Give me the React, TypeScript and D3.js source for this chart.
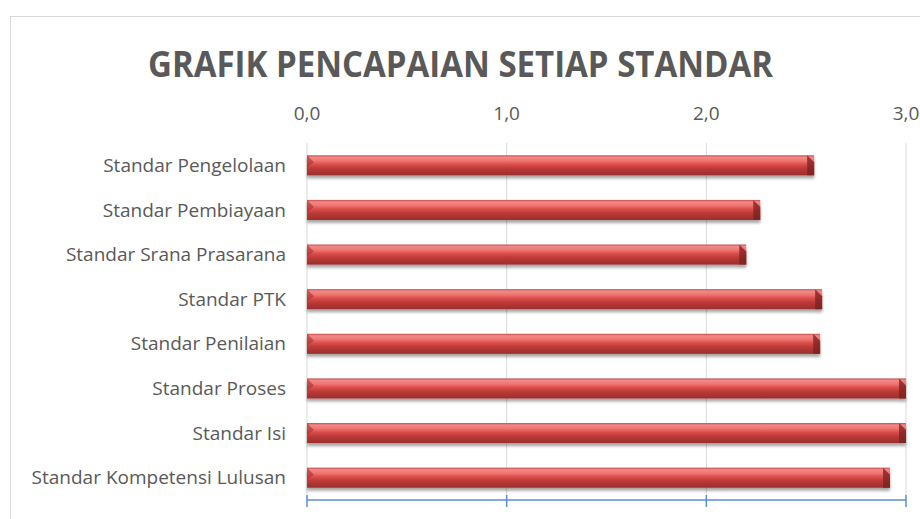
import React from "react";
import * as d3 from "d3";

const categories = [
  "Standar Pengelolaan",
  "Standar Pembiayaan",
  "Standar Srana Prasarana",
  "Standar PTK",
  "Standar Penilaian",
  "Standar Proses",
  "Standar Isi",
  "Standar Kompetensi Lulusan",
];
const values = [2.54, 2.27, 2.2, 2.58, 2.57, 3.0, 3.0, 2.92];
const tickValues = [0, 1, 2, 3];
const title = "GRAFIK PENCAPAIAN SETIAP STANDAR";

const W = 920;
const H = 519;
const plotLeft = 307;
const plotRight = 906;
const plotTop = 143;
const plotBottom = 500;

export default function App() {
  const x = d3.scaleLinear().domain([0, 3]).range([plotLeft, plotRight]);
  const y = d3
    .scaleBand<string>()
    .domain(categories)
    .range([plotTop, plotBottom])
    .paddingInner(0.55)
    .paddingOuter(0.275);
  const fmt = (v: number) => d3.format(".1f")(v).replace(".", ",");
  const bh = y.bandwidth();
  const font = "'Open Sans', 'Noto Sans', sans-serif";

  return (
    <svg
      width={W}
      height={H}
      style={{ position: "absolute", left: 0, top: 0, background: "#fff" }}
    >
      <defs>
        <linearGradient id="barGrad" x1="0" y1="0" x2="0" y2="1">
          <stop offset="0%" stopColor="#c94a48" />
          <stop offset="10%" stopColor="#f08a88" />
          <stop offset="28%" stopColor="#f07471" />
          <stop offset="45%" stopColor="#dc4f4c" />
          <stop offset="65%" stopColor="#bd3a38" />
          <stop offset="100%" stopColor="#9a2e2c" />
        </linearGradient>
        <linearGradient id="endGrad" x1="0" y1="0" x2="0" y2="1">
          <stop offset="0%" stopColor="#8f2a28" />
          <stop offset="100%" stopColor="#7a2220" />
        </linearGradient>
        <filter id="shadow" x="-5%" y="-50%" width="110%" height="200%">
          <feGaussianBlur in="SourceAlpha" stdDeviation="1.5" />
          <feOffset dx="0" dy="2.5" result="ob" />
          <feComponentTransfer>
            <feFuncA type="linear" slope="0.35" />
          </feComponentTransfer>
          <feMerge>
            <feMergeNode />
            <feMergeNode in="SourceGraphic" />
          </feMerge>
        </filter>
      </defs>

      <rect
        x={10.5}
        y={16.5}
        width={930}
        height={530}
        fill="#fff"
        stroke="#d9d9d9"
        strokeWidth={1}
      />

      <text
        x={460.5}
        y={77}
        textAnchor="middle"
        fontFamily={font}
        fontWeight="bold"
        fontSize={36}
        fill="#595959"
        textLength={625}
        lengthAdjust="spacingAndGlyphs"
      >
        {title}
      </text>

      {tickValues.map((t) => (
        <g key={t}>
          <line
            x1={x(t)}
            x2={x(t)}
            y1={plotTop}
            y2={plotBottom}
            stroke="#d9d9d9"
            strokeWidth={1}
          />
          <text
            x={x(t)}
            y={120}
            textAnchor="middle"
            fontFamily={font}
            fontSize={19}
            fill="#595959"
          >
            {fmt(t)}
          </text>
        </g>
      ))}

      {categories.map((c, i) => {
        const y0 = y(c)!;
        const x1 = x(values[i]);
        const bev = Math.min(7, bh * 0.35);
        return (
          <g key={c}>
            <g filter="url(#shadow)">
              <rect
                x={x(0)}
                y={y0}
                width={x1 - x(0)}
                height={bh}
                fill="url(#barGrad)"
              />
              <polygon
                points={`${x1 - bev},${y0} ${x1},${y0 + bev} ${x1},${y0 + bh} ${x1 - bev},${y0 + bh}`}
                fill="url(#endGrad)"
                opacity={0.85}
              />
              <polygon
                points={`${x(0)},${y0} ${x(0) + bev},${y0 + bev} ${x(0)},${y0 + bh * 0.6}`}
                fill="#a33230"
                opacity={0.6}
              />
            </g>
            <text
              x={286}
              y={y0 + bh / 2}
              dy="0.35em"
              textAnchor="end"
              fontFamily={font}
              fontSize={19}
              fill="#595959"
            >
              {c}
            </text>
          </g>
        );
      })}

      <line
        x1={plotLeft}
        x2={plotRight}
        y1={plotBottom}
        y2={plotBottom}
        stroke="#5b8fd6"
        strokeWidth={1.5}
      />
      {tickValues.map((t) => (
        <line
          key={"tk" + t}
          x1={x(t)}
          x2={x(t)}
          y1={plotBottom - 5}
          y2={plotBottom + 7}
          stroke="#5b8fd6"
          strokeWidth={1.5}
        />
      ))}
    </svg>
  );
}
